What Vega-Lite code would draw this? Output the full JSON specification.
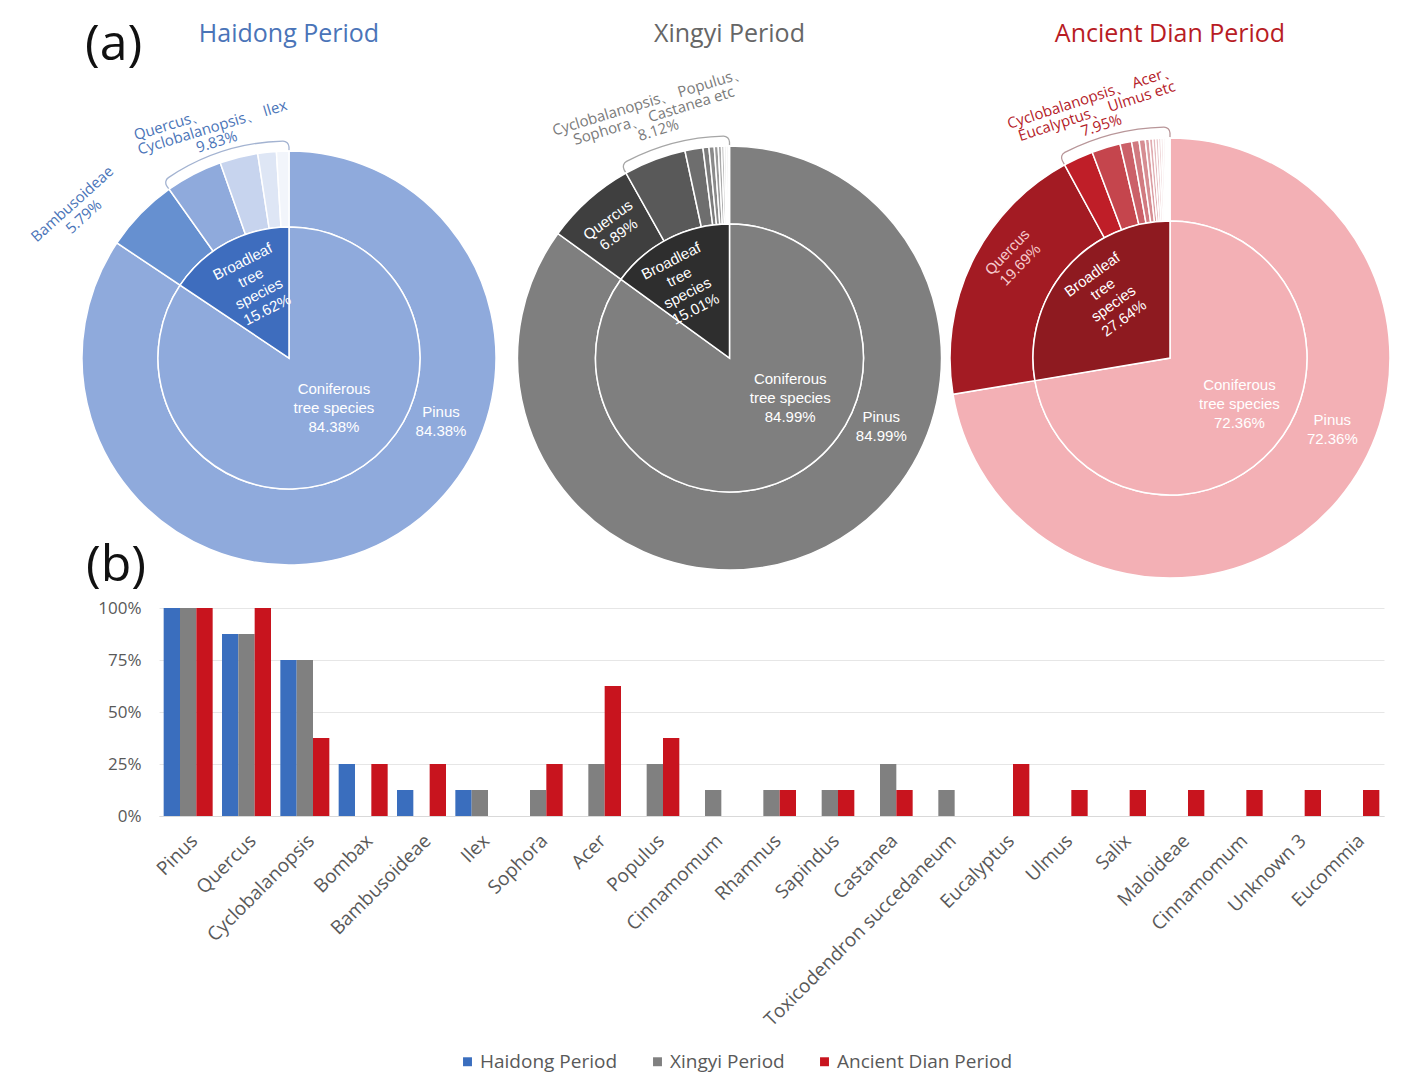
{
  "$schema": "https://vega.github.io/schema/vega-lite/v6.json",
  "background": "white",
  "padding": {"left": 28, "top": 20, "right": 0, "bottom": 10},
  "bounds": "flush",
  "spacing": 0,
  "config": {
    "view": {"stroke": null},
    "font": "Open Sans",
    "axis": {"labelFont": "Open Sans"},
    "legend": {"labelFont": "Open Sans"}
  },
  "resolve": {"scale": {"color": "independent", "x": "independent"}},
  "datasets": {
    "slices": [
      {"period": "Haidong Period", "ring": "outer", "name": "Pinus", "pct": 84.38, "rank": 1, "label": "Pinus\n84.38%"},
      {"period": "Haidong Period", "ring": "outer", "name": "Bambusoideae", "pct": 5.79, "rank": 2, "label": "Bambusoideae\n5.79%"},
      {"period": "Haidong Period", "ring": "outer", "name": "Quercus", "pct": 4.44, "rank": 3},
      {"period": "Haidong Period", "ring": "outer", "name": "Cyclobalanopsis", "pct": 2.97, "rank": 4},
      {"period": "Haidong Period", "ring": "outer", "name": "Ilex", "pct": 1.45, "rank": 5},
      {"period": "Haidong Period", "ring": "outer", "name": "Bombax", "pct": 0.97, "rank": 6},
      {"period": "Haidong Period", "ring": "inner", "name": "Coniferous tree species", "pct": 84.38, "rank": 1, "label": "Coniferous\ntree species\n84.38%"},
      {"period": "Haidong Period", "ring": "inner", "name": "Broadleaf tree species", "pct": 15.62, "rank": 2, "label": "Broadleaf\ntree\nspecies\n15.62%"},

      {"period": "Xingyi Period", "ring": "outer", "name": "Pinus", "pct": 84.99, "rank": 1, "label": "Pinus\n84.99%"},
      {"period": "Xingyi Period", "ring": "outer", "name": "Quercus", "pct": 6.89, "rank": 2, "label": "Quercus\n6.89%"},
      {"period": "Xingyi Period", "ring": "outer", "name": "Cyclobalanopsis", "pct": 4.75, "rank": 3},
      {"period": "Xingyi Period", "ring": "outer", "name": "Populus", "pct": 1.37, "rank": 4},
      {"period": "Xingyi Period", "ring": "outer", "name": "Sophora", "pct": 0.45, "rank": 5},
      {"period": "Xingyi Period", "ring": "outer", "name": "Castanea", "pct": 0.4, "rank": 6},
      {"period": "Xingyi Period", "ring": "outer", "name": "Acer", "pct": 0.3, "rank": 7},
      {"period": "Xingyi Period", "ring": "outer", "name": "Ilex", "pct": 0.25, "rank": 8},
      {"period": "Xingyi Period", "ring": "outer", "name": "Cinnamomum", "pct": 0.2, "rank": 9},
      {"period": "Xingyi Period", "ring": "outer", "name": "Rhamnus", "pct": 0.15, "rank": 10},
      {"period": "Xingyi Period", "ring": "outer", "name": "Sapindus", "pct": 0.15, "rank": 11},
      {"period": "Xingyi Period", "ring": "outer", "name": "Toxicodendron succedaneum", "pct": 0.1, "rank": 12},
      {"period": "Xingyi Period", "ring": "inner", "name": "Coniferous tree species", "pct": 84.99, "rank": 1, "label": "Coniferous\ntree species\n84.99%"},
      {"period": "Xingyi Period", "ring": "inner", "name": "Broadleaf tree species", "pct": 15.01, "rank": 2, "label": "Broadleaf\ntree\nspecies\n15.01%"},

      {"period": "Ancient Dian Period", "ring": "outer", "name": "Pinus", "pct": 72.36, "rank": 1, "label": "Pinus\n72.36%"},
      {"period": "Ancient Dian Period", "ring": "outer", "name": "Quercus", "pct": 19.69, "rank": 2, "label": "Quercus\n19.69%"},
      {"period": "Ancient Dian Period", "ring": "outer", "name": "Cyclobalanopsis", "pct": 2.2, "rank": 3},
      {"period": "Ancient Dian Period", "ring": "outer", "name": "Acer", "pct": 2.1, "rank": 4},
      {"period": "Ancient Dian Period", "ring": "outer", "name": "Eucalyptus", "pct": 0.85, "rank": 5},
      {"period": "Ancient Dian Period", "ring": "outer", "name": "Ulmus", "pct": 0.55, "rank": 6},
      {"period": "Ancient Dian Period", "ring": "outer", "name": "Populus", "pct": 0.45, "rank": 7},
      {"period": "Ancient Dian Period", "ring": "outer", "name": "Sophora", "pct": 0.3, "rank": 8},
      {"period": "Ancient Dian Period", "ring": "outer", "name": "Bombax", "pct": 0.25, "rank": 9},
      {"period": "Ancient Dian Period", "ring": "outer", "name": "Bambusoideae", "pct": 0.22, "rank": 10},
      {"period": "Ancient Dian Period", "ring": "outer", "name": "Castanea", "pct": 0.2, "rank": 11},
      {"period": "Ancient Dian Period", "ring": "outer", "name": "Rhamnus", "pct": 0.18, "rank": 12},
      {"period": "Ancient Dian Period", "ring": "outer", "name": "Sapindus", "pct": 0.16, "rank": 13},
      {"period": "Ancient Dian Period", "ring": "outer", "name": "Salix", "pct": 0.14, "rank": 14},
      {"period": "Ancient Dian Period", "ring": "outer", "name": "Maloideae", "pct": 0.12, "rank": 15},
      {"period": "Ancient Dian Period", "ring": "outer", "name": "Cinnamomum", "pct": 0.1, "rank": 16},
      {"period": "Ancient Dian Period", "ring": "outer", "name": "Unknown 3", "pct": 0.08, "rank": 17},
      {"period": "Ancient Dian Period", "ring": "outer", "name": "Eucommia", "pct": 0.05, "rank": 18},
      {"period": "Ancient Dian Period", "ring": "inner", "name": "Coniferous tree species", "pct": 72.36, "rank": 1, "label": "Coniferous\ntree species\n72.36%"},
      {"period": "Ancient Dian Period", "ring": "inner", "name": "Broadleaf tree species", "pct": 27.64, "rank": 2, "label": "Broadleaf\ntree\nspecies\n27.64%"}
    ],
    "groups": [
      {"period": "Haidong Period", "part": "main", "pct": 90.17, "rank": 1},
      {"period": "Haidong Period", "part": "brace", "pct": 9.83, "rank": 2, "lead": "Quercus、", "label": "Cyclobalanopsis、 Ilex\n9.83%"},
      {"period": "Xingyi Period", "part": "main", "pct": 91.88, "rank": 1},
      {"period": "Xingyi Period", "part": "brace", "pct": 8.12, "rank": 2, "label": "Cyclobalanopsis、 Populus、\nSophora、 Castanea etc\n8.12%"},
      {"period": "Ancient Dian Period", "part": "main", "pct": 92.05, "rank": 1},
      {"period": "Ancient Dian Period", "part": "brace", "pct": 7.95, "rank": 2, "label": "Cyclobalanopsis、 Acer、\nEucalyptus、 Ulmus etc\n7.95%"}
    ],
    "periods": [
      {"period": "Haidong Period"},
      {"period": "Xingyi Period"},
      {"period": "Ancient Dian Period"}
    ],
    "freq": [
      {"taxon": "Pinus", "period": "Haidong Period", "freq": 1},
      {"taxon": "Pinus", "period": "Xingyi Period", "freq": 1},
      {"taxon": "Pinus", "period": "Ancient Dian Period", "freq": 1},
      {"taxon": "Quercus", "period": "Haidong Period", "freq": 0.875},
      {"taxon": "Quercus", "period": "Xingyi Period", "freq": 0.875},
      {"taxon": "Quercus", "period": "Ancient Dian Period", "freq": 1},
      {"taxon": "Cyclobalanopsis", "period": "Haidong Period", "freq": 0.75},
      {"taxon": "Cyclobalanopsis", "period": "Xingyi Period", "freq": 0.75},
      {"taxon": "Cyclobalanopsis", "period": "Ancient Dian Period", "freq": 0.375},
      {"taxon": "Bombax", "period": "Haidong Period", "freq": 0.25},
      {"taxon": "Bombax", "period": "Ancient Dian Period", "freq": 0.25},
      {"taxon": "Bambusoideae", "period": "Haidong Period", "freq": 0.125},
      {"taxon": "Bambusoideae", "period": "Ancient Dian Period", "freq": 0.25},
      {"taxon": "Ilex", "period": "Haidong Period", "freq": 0.125},
      {"taxon": "Ilex", "period": "Xingyi Period", "freq": 0.125},
      {"taxon": "Sophora", "period": "Xingyi Period", "freq": 0.125},
      {"taxon": "Sophora", "period": "Ancient Dian Period", "freq": 0.25},
      {"taxon": "Acer", "period": "Xingyi Period", "freq": 0.25},
      {"taxon": "Acer", "period": "Ancient Dian Period", "freq": 0.625},
      {"taxon": "Populus", "period": "Xingyi Period", "freq": 0.25},
      {"taxon": "Populus", "period": "Ancient Dian Period", "freq": 0.375},
      {"taxon": "Cinnamomum", "period": "Xingyi Period", "freq": 0.125},
      {"taxon": "Rhamnus", "period": "Xingyi Period", "freq": 0.125},
      {"taxon": "Rhamnus", "period": "Ancient Dian Period", "freq": 0.125},
      {"taxon": "Sapindus", "period": "Xingyi Period", "freq": 0.125},
      {"taxon": "Sapindus", "period": "Ancient Dian Period", "freq": 0.125},
      {"taxon": "Castanea", "period": "Xingyi Period", "freq": 0.25},
      {"taxon": "Castanea", "period": "Ancient Dian Period", "freq": 0.125},
      {"taxon": "Toxicodendron succedaneum", "period": "Xingyi Period", "freq": 0.125},
      {"taxon": "Eucalyptus", "period": "Ancient Dian Period", "freq": 0.25},
      {"taxon": "Ulmus", "period": "Ancient Dian Period", "freq": 0.125},
      {"taxon": "Salix", "period": "Ancient Dian Period", "freq": 0.125},
      {"taxon": "Maloideae", "period": "Ancient Dian Period", "freq": 0.125},
      {"taxon": "Cinnamomum|2", "period": "Ancient Dian Period", "freq": 0.125},
      {"taxon": "Unknown 3", "period": "Ancient Dian Period", "freq": 0.125},
      {"taxon": "Eucommia", "period": "Ancient Dian Period", "freq": 0.125}
    ]
  },
  "vconcat": [
    {
      "width": 1260,
      "height": 500,
      "title": {"text": "(a)", "anchor": "start", "frame": "group", "dx": -74, "offset": -48, "fontSize": 50, "fontWeight": "normal", "font": "Open Sans", "color": "#111111"},
      "encoding": {
        "x": {"field": "period", "type": "nominal", "axis": null,
              "scale": {"type": "point", "domain": ["Haidong Period", "Xingyi Period", "Ancient Dian Period"], "padding": 0.4302, "align": 0.343}}
      },
      "resolve": {"scale": {"color": "independent"}},
      "layer": [
        {
          "data": {"name": "groups"},
          "transform": [{"filter": "datum.period === 'Haidong Period'"}],
          "mark": {"type": "arc", "innerRadius": 201, "outerRadius": 217, "cornerRadius": 6, "fill": "transparent", "stroke": "#A3B3D1", "strokeWidth": 1.3},
          "encoding": {
            "theta": {"field": "pct", "type": "quantitative", "stack": true, "scale": {"domain": [0, 100]}},
            "order": {"field": "rank", "type": "quantitative"},
            "strokeOpacity": {"condition": {"test": "datum.part === 'main'", "value": 0}, "value": 1}
          }
        },
        {
          "data": {"name": "slices"},
          "transform": [{"filter": "datum.period === 'Haidong Period' && datum.ring === 'outer'"}],
          "mark": {"type": "arc", "innerRadius": 131, "outerRadius": 207, "stroke": "white", "strokeWidth": 1.5},
          "encoding": {
            "theta": {"field": "pct", "type": "quantitative", "stack": true, "scale": {"domain": [0, 100]}},
            "order": {"field": "rank", "type": "quantitative"},
            "color": {"field": "name", "type": "nominal", "legend": null,
                      "scale": {"domain": ["Pinus", "Bambusoideae", "Quercus", "Cyclobalanopsis", "Ilex", "Bombax"],
                                "range": ["#8FAADC", "#6690D0", "#8FAADC", "#C7D4EE", "#DEE6F5", "#F2F5FB"]}}
          }
        },
        {
          "data": {"name": "slices"},
          "transform": [{"filter": "datum.period === 'Haidong Period' && datum.ring === 'inner'"}],
          "mark": {"type": "arc", "innerRadius": 0, "outerRadius": 131, "stroke": "white", "strokeWidth": 1.5},
          "encoding": {
            "theta": {"field": "pct", "type": "quantitative", "stack": true, "scale": {"domain": [0, 100]}},
            "order": {"field": "rank", "type": "quantitative"},
            "color": {"field": "name", "type": "nominal", "legend": null,
                      "scale": {"domain": ["Coniferous tree species", "Broadleaf tree species"], "range": ["#8FAADC", "#3E6DBE"]}}
          }
        },
        {
          "data": {"name": "slices"},
          "transform": [{"filter": "datum.period === 'Haidong Period' && datum.ring === 'inner'"}],
          "mark": {"type": "text", "radius": 55, "dx": 19, "dy": -18, "font": "Liberation Sans", "fontSize": 15, "lineHeight": 19, "lineBreak": "\n", "color": "white", "align": "center", "baseline": "middle"},
          "encoding": {
            "theta": {"field": "pct", "type": "quantitative", "stack": true, "scale": {"domain": [0, 100]}},
            "order": {"field": "rank", "type": "quantitative"},
            "text": {"condition": {"test": "datum.name === 'Coniferous tree species'", "field": "label"}, "value": ""}
          }
        },
        {
          "data": {"name": "slices"},
          "transform": [{"filter": "datum.period === 'Haidong Period' && datum.ring === 'inner'"}],
          "mark": {"type": "text", "radius": 80, "angle": -27, "dx": 4, "dy": -27, "font": "Liberation Sans", "fontSize": 15, "lineHeight": 18, "lineBreak": "\n", "color": "white", "align": "center", "baseline": "middle"},
          "encoding": {
            "theta": {"field": "pct", "type": "quantitative", "stack": true, "scale": {"domain": [0, 100]}},
            "order": {"field": "rank", "type": "quantitative"},
            "text": {"condition": {"test": "datum.name === 'Broadleaf tree species'", "field": "label"}, "value": ""}
          }
        },
        {
          "data": {"name": "slices"},
          "transform": [{"filter": "datum.period === 'Haidong Period' && datum.ring === 'outer'"}],
          "mark": {"type": "text", "radius": 70, "dx": 119, "dy": -8, "font": "Liberation Sans", "fontSize": 15, "lineHeight": 19, "lineBreak": "\n", "color": "white", "align": "center", "baseline": "middle"},
          "encoding": {
            "theta": {"field": "pct", "type": "quantitative", "stack": true, "scale": {"domain": [0, 100]}},
            "order": {"field": "rank", "type": "quantitative"},
            "text": {"condition": {"test": "datum.name === 'Pinus'", "field": "label"}, "value": ""}
          }
        },
        {
          "data": {"name": "slices"},
          "transform": [{"filter": "datum.period === 'Haidong Period' && datum.ring === 'outer'"}],
          "mark": {"type": "text", "radius": 255, "angle": -42, "dx": -41, "dy": -5, "font": "Open Sans", "fontSize": 15, "lineHeight": 17, "lineBreak": "\n", "color": "#4A74B8", "align": "center", "baseline": "middle"},
          "encoding": {
            "theta": {"field": "pct", "type": "quantitative", "stack": true, "scale": {"domain": [0, 100]}},
            "order": {"field": "rank", "type": "quantitative"},
            "text": {"condition": {"test": "datum.name === 'Bambusoideae'", "field": "label"}, "value": ""}
          }
        },
        {
          "data": {"name": "groups"},
          "transform": [{"filter": "datum.period === 'Haidong Period'"}],
          "mark": {"type": "text", "radius": 240, "angle": -17, "dx": -3, "dy": -3, "font": "Open Sans", "fontSize": 15, "lineHeight": 15, "lineBreak": "\n", "color": "#4A74B8", "align": "center", "baseline": "middle"},
          "encoding": {
            "theta": {"field": "pct", "type": "quantitative", "stack": true, "scale": {"domain": [0, 100]}},
            "order": {"field": "rank", "type": "quantitative"},
            "text": {"condition": {"test": "datum.part === 'brace'", "field": "label"}, "value": ""}
          }
        },
        {
          "data": {"name": "groups"},
          "transform": [{"filter": "datum.period === 'Haidong Period'"}],
          "mark": {"type": "text", "radius": 240, "angle": -17, "dx": -80, "dy": -18, "font": "Open Sans", "fontSize": 15, "color": "#4A74B8", "align": "left", "baseline": "middle"},
          "encoding": {
            "theta": {"field": "pct", "type": "quantitative", "stack": true, "scale": {"domain": [0, 100]}},
            "order": {"field": "rank", "type": "quantitative"},
            "text": {"condition": {"test": "datum.part === 'brace'", "field": "lead"}, "value": ""}
          }
        },

        {
          "data": {"name": "groups"},
          "transform": [{"filter": "datum.period === 'Xingyi Period'"}],
          "mark": {"type": "arc", "innerRadius": 206, "outerRadius": 222, "cornerRadius": 6, "fill": "transparent", "stroke": "#A6A6A6", "strokeWidth": 1.3},
          "encoding": {
            "theta": {"field": "pct", "type": "quantitative", "stack": true, "scale": {"domain": [0, 100]}},
            "order": {"field": "rank", "type": "quantitative"},
            "strokeOpacity": {"condition": {"test": "datum.part === 'main'", "value": 0}, "value": 1}
          }
        },
        {
          "data": {"name": "slices"},
          "transform": [{"filter": "datum.period === 'Xingyi Period' && datum.ring === 'outer'"}],
          "mark": {"type": "arc", "innerRadius": 134, "outerRadius": 212, "stroke": "white", "strokeWidth": 1.5},
          "encoding": {
            "theta": {"field": "pct", "type": "quantitative", "stack": true, "scale": {"domain": [0, 100]}},
            "order": {"field": "rank", "type": "quantitative"},
            "color": {"field": "name", "type": "nominal", "legend": null,
                      "scale": {"domain": ["Pinus", "Quercus", "Cyclobalanopsis", "Populus", "Sophora", "Castanea", "Acer", "Ilex", "Cinnamomum", "Rhamnus", "Sapindus", "Toxicodendron succedaneum"],
                                "range": ["#7F7F7F", "#3F3F3F", "#595959", "#6E6E6E", "#7C7C7C", "#8A8A8A", "#999999", "#A8A8A8", "#B8B8B8", "#C8C8C8", "#D9D9D9", "#EBEBEB"]}}
          }
        },
        {
          "data": {"name": "slices"},
          "transform": [{"filter": "datum.period === 'Xingyi Period' && datum.ring === 'inner'"}],
          "mark": {"type": "arc", "innerRadius": 0, "outerRadius": 134, "stroke": "white", "strokeWidth": 1.5},
          "encoding": {
            "theta": {"field": "pct", "type": "quantitative", "stack": true, "scale": {"domain": [0, 100]}},
            "order": {"field": "rank", "type": "quantitative"},
            "color": {"field": "name", "type": "nominal", "legend": null,
                      "scale": {"domain": ["Coniferous tree species", "Broadleaf tree species"], "range": ["#7F7F7F", "#2E2E2E"]}}
          }
        },
        {
          "data": {"name": "slices"},
          "transform": [{"filter": "datum.period === 'Xingyi Period' && datum.ring === 'inner'"}],
          "mark": {"type": "text", "radius": 50, "dx": 38, "dy": -24, "font": "Liberation Sans", "fontSize": 15, "lineHeight": 19, "lineBreak": "\n", "color": "white", "align": "center", "baseline": "middle"},
          "encoding": {
            "theta": {"field": "pct", "type": "quantitative", "stack": true, "scale": {"domain": [0, 100]}},
            "order": {"field": "rank", "type": "quantitative"},
            "text": {"condition": {"test": "datum.name === 'Coniferous tree species'", "field": "label"}, "value": ""}
          }
        },
        {
          "data": {"name": "slices"},
          "transform": [{"filter": "datum.period === 'Xingyi Period' && datum.ring === 'inner'"}],
          "mark": {"type": "text", "radius": 86, "angle": -27, "dx": -8, "dy": -27, "font": "Liberation Sans", "fontSize": 15, "lineHeight": 18, "lineBreak": "\n", "color": "white", "align": "center", "baseline": "middle"},
          "encoding": {
            "theta": {"field": "pct", "type": "quantitative", "stack": true, "scale": {"domain": [0, 100]}},
            "order": {"field": "rank", "type": "quantitative"},
            "text": {"condition": {"test": "datum.name === 'Broadleaf tree species'", "field": "label"}, "value": ""}
          }
        },
        {
          "data": {"name": "slices"},
          "transform": [{"filter": "datum.period === 'Xingyi Period' && datum.ring === 'outer'"}],
          "mark": {"type": "text", "radius": 70, "dx": 120, "dy": -3, "font": "Liberation Sans", "fontSize": 15, "lineHeight": 19, "lineBreak": "\n", "color": "white", "align": "center", "baseline": "middle"},
          "encoding": {
            "theta": {"field": "pct", "type": "quantitative", "stack": true, "scale": {"domain": [0, 100]}},
            "order": {"field": "rank", "type": "quantitative"},
            "text": {"condition": {"test": "datum.name === 'Pinus'", "field": "label"}, "value": ""}
          }
        },
        {
          "data": {"name": "slices"},
          "transform": [{"filter": "datum.period === 'Xingyi Period' && datum.ring === 'outer'"}],
          "mark": {"type": "text", "radius": 175, "angle": -36, "dy": -9, "font": "Liberation Sans", "fontSize": 15, "lineHeight": 18, "lineBreak": "\n", "color": "white", "align": "center", "baseline": "middle"},
          "encoding": {
            "theta": {"field": "pct", "type": "quantitative", "stack": true, "scale": {"domain": [0, 100]}},
            "order": {"field": "rank", "type": "quantitative"},
            "text": {"condition": {"test": "datum.name === 'Quercus'", "field": "label"}, "value": ""}
          }
        },
        {
          "data": {"name": "groups"},
          "transform": [{"filter": "datum.period === 'Xingyi Period'"}],
          "mark": {"type": "text", "radius": 255, "angle": -17, "dx": -12, "dy": -14, "font": "Open Sans", "fontSize": 15, "lineHeight": 15, "lineBreak": "\n", "color": "#7A7A7A", "align": "center", "baseline": "middle"},
          "encoding": {
            "theta": {"field": "pct", "type": "quantitative", "stack": true, "scale": {"domain": [0, 100]}},
            "order": {"field": "rank", "type": "quantitative"},
            "text": {"condition": {"test": "datum.part === 'brace'", "field": "label"}, "value": ""}
          }
        },

        {
          "data": {"name": "groups"},
          "transform": [{"filter": "datum.period === 'Ancient Dian Period'"}],
          "mark": {"type": "arc", "innerRadius": 214, "outerRadius": 231, "cornerRadius": 6, "fill": "transparent", "stroke": "#B89699", "strokeWidth": 1.3},
          "encoding": {
            "theta": {"field": "pct", "type": "quantitative", "stack": true, "scale": {"domain": [0, 100]}},
            "order": {"field": "rank", "type": "quantitative"},
            "strokeOpacity": {"condition": {"test": "datum.part === 'main'", "value": 0}, "value": 1}
          }
        },
        {
          "data": {"name": "slices"},
          "transform": [{"filter": "datum.period === 'Ancient Dian Period' && datum.ring === 'outer'"}],
          "mark": {"type": "arc", "innerRadius": 137, "outerRadius": 220, "stroke": "white", "strokeWidth": 1.5},
          "encoding": {
            "theta": {"field": "pct", "type": "quantitative", "stack": true, "scale": {"domain": [0, 100]}},
            "order": {"field": "rank", "type": "quantitative"},
            "color": {"field": "name", "type": "nominal", "legend": null,
                      "scale": {"domain": ["Pinus", "Quercus", "Cyclobalanopsis", "Acer", "Eucalyptus", "Ulmus", "Populus", "Sophora", "Bombax", "Bambusoideae", "Castanea", "Rhamnus", "Sapindus", "Salix", "Maloideae", "Cinnamomum", "Unknown 3", "Eucommia"],
                                "range": ["#F3B0B5", "#A31B23", "#BF1E28", "#C5454D", "#CB6068", "#D17A80", "#D68D92", "#DB9DA2", "#E0ACB0", "#E4B9BC", "#E8C4C7", "#ECCED0", "#EFD7D9", "#F2DFE1", "#F5E7E8", "#F7EDEE", "#FAF3F4", "#FCF8F9"]}}
          }
        },
        {
          "data": {"name": "slices"},
          "transform": [{"filter": "datum.period === 'Ancient Dian Period' && datum.ring === 'inner'"}],
          "mark": {"type": "arc", "innerRadius": 0, "outerRadius": 137, "stroke": "white", "strokeWidth": 1.5},
          "encoding": {
            "theta": {"field": "pct", "type": "quantitative", "stack": true, "scale": {"domain": [0, 100]}},
            "order": {"field": "rank", "type": "quantitative"},
            "color": {"field": "name", "type": "nominal", "legend": null,
                      "scale": {"domain": ["Coniferous tree species", "Broadleaf tree species"], "range": ["#F3B0B5", "#8E1A20"]}}
          }
        },
        {
          "data": {"name": "slices"},
          "transform": [{"filter": "datum.period === 'Ancient Dian Period' && datum.ring === 'inner'"}],
          "mark": {"type": "text", "radius": 70, "dx": 16, "dy": -18, "font": "Liberation Sans", "fontSize": 15, "lineHeight": 19, "lineBreak": "\n", "color": "white", "align": "center", "baseline": "middle"},
          "encoding": {
            "theta": {"field": "pct", "type": "quantitative", "stack": true, "scale": {"domain": [0, 100]}},
            "order": {"field": "rank", "type": "quantitative"},
            "text": {"condition": {"test": "datum.name === 'Coniferous tree species'", "field": "label"}, "value": ""}
          }
        },
        {
          "data": {"name": "slices"},
          "transform": [{"filter": "datum.period === 'Ancient Dian Period' && datum.ring === 'inner'"}],
          "mark": {"type": "text", "radius": 96, "angle": -36, "dx": 9, "dy": -20, "font": "Liberation Sans", "fontSize": 15, "lineHeight": 18, "lineBreak": "\n", "color": "white", "align": "center", "baseline": "middle"},
          "encoding": {
            "theta": {"field": "pct", "type": "quantitative", "stack": true, "scale": {"domain": [0, 100]}},
            "order": {"field": "rank", "type": "quantitative"},
            "text": {"condition": {"test": "datum.name === 'Broadleaf tree species'", "field": "label"}, "value": ""}
          }
        },
        {
          "data": {"name": "slices"},
          "transform": [{"filter": "datum.period === 'Ancient Dian Period' && datum.ring === 'outer'"}],
          "mark": {"type": "text", "radius": 100, "dx": 86, "dy": -3, "font": "Liberation Sans", "fontSize": 15, "lineHeight": 19, "lineBreak": "\n", "color": "white", "align": "center", "baseline": "middle"},
          "encoding": {
            "theta": {"field": "pct", "type": "quantitative", "stack": true, "scale": {"domain": [0, 100]}},
            "order": {"field": "rank", "type": "quantitative"},
            "text": {"condition": {"test": "datum.name === 'Pinus'", "field": "label"}, "value": ""}
          }
        },
        {
          "data": {"name": "slices"},
          "transform": [{"filter": "datum.period === 'Ancient Dian Period' && datum.ring === 'outer'"}],
          "mark": {"type": "text", "radius": 190, "angle": -46, "dx": 22, "dy": -10, "font": "Liberation Sans", "fontSize": 15, "lineHeight": 18, "lineBreak": "\n", "color": "#F6C9CC", "align": "center", "baseline": "middle"},
          "encoding": {
            "theta": {"field": "pct", "type": "quantitative", "stack": true, "scale": {"domain": [0, 100]}},
            "order": {"field": "rank", "type": "quantitative"},
            "text": {"condition": {"test": "datum.name === 'Quercus'", "field": "label"}, "value": ""}
          }
        },
        {
          "data": {"name": "groups"},
          "transform": [{"filter": "datum.period === 'Ancient Dian Period'"}],
          "mark": {"type": "text", "radius": 258, "angle": -18, "dx": -10, "dy": -15, "font": "Open Sans", "fontSize": 15, "lineHeight": 15, "lineBreak": "\n", "color": "#B42028", "align": "center", "baseline": "middle"},
          "encoding": {
            "theta": {"field": "pct", "type": "quantitative", "stack": true, "scale": {"domain": [0, 100]}},
            "order": {"field": "rank", "type": "quantitative"},
            "text": {"condition": {"test": "datum.part === 'brace'", "field": "label"}, "value": ""}
          }
        },

        {
          "data": {"name": "periods"},
          "mark": {"type": "text", "dy": -324, "font": "Open Sans", "fontSize": 25, "align": "center", "baseline": "middle"},
          "encoding": {
            "text": {"field": "period", "type": "nominal"},
            "color": {"field": "period", "type": "nominal", "legend": null,
                      "scale": {"domain": ["Haidong Period", "Xingyi Period", "Ancient Dian Period"], "range": ["#4A74B8", "#666666", "#B81C24"]}}
          }
        }
      ]
    },
    {
      "width": 1225,
      "height": 208,
      "title": {"text": "(b)", "anchor": "start", "frame": "group", "dx": -73, "offset": 8, "fontSize": 50, "fontWeight": "normal", "font": "Open Sans", "color": "#111111"},
      "data": {"name": "freq"},
      "mark": {"type": "bar"},
      "encoding": {
        "x": {
          "field": "taxon", "type": "nominal",
          "scale": {"domain": ["Pinus", "Quercus", "Cyclobalanopsis", "Bombax", "Bambusoideae", "Ilex", "Sophora", "Acer", "Populus", "Cinnamomum", "Rhamnus", "Sapindus", "Castanea", "Toxicodendron succedaneum", "Eucalyptus", "Ulmus", "Salix", "Maloideae", "Cinnamomum|2", "Unknown 3", "Eucommia"],
                    "paddingInner": 0.16, "paddingOuter": 0.08},
          "axis": {"title": null, "labelAngle": -45, "labelFontSize": 19, "labelColor": "#595959", "ticks": false, "domainColor": "#D9D9D9", "labelPadding": 15, "labelOverlap": false, "labelLimit": 400,
                   "labelExpr": "split(datum.label, '|')[0]"}
        },
        "xOffset": {
          "field": "period", "type": "nominal",
          "scale": {"domain": ["Haidong Period", "Xingyi Period", "Ancient Dian Period"], "paddingInner": 0, "paddingOuter": 0}
        },
        "y": {
          "field": "freq", "type": "quantitative",
          "scale": {"domain": [0, 1]},
          "axis": {"title": null, "values": [0, 0.25, 0.5, 0.75, 1], "format": ".0%", "domain": false, "ticks": false, "tickSize": 0, "labelPadding": 18,
                   "labelFontSize": 17, "labelColor": "#595959", "gridColor": "#E6E6E6"}
        },
        "color": {
          "field": "period", "type": "nominal",
          "scale": {"domain": ["Haidong Period", "Xingyi Period", "Ancient Dian Period"], "range": ["#3A6EBE", "#808080", "#C8141E"]},
          "legend": {"title": null, "orient": "none", "legendX": 299, "legendY": 444, "direction": "horizontal", "symbolType": "square", "symbolSize": 80,
                     "labelFontSize": 19, "labelColor": "#595959", "columnPadding": 30, "labelOffset": 3, "labelLimit": 400}
        }
      }
    }
  ]
}
